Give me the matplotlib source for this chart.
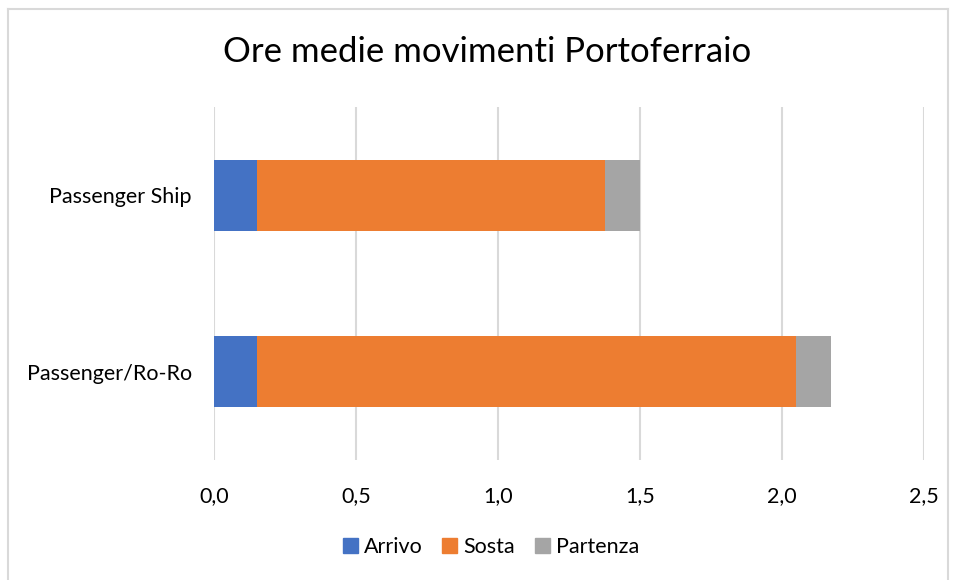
import matplotlib
matplotlib.use("Agg")
import matplotlib.pyplot as plt
from matplotlib.patches import Rectangle
from matplotlib.lines import Line2D

categories = ["Passenger/Ro-Ro", "Passenger Ship"]
arrivo = [0.15, 0.15]
sosta = [1.90, 1.227]
partenza = [0.123, 0.123]
series_names = ["Arrivo", "Sosta", "Partenza"]
colors = ["#4472C4", "#ED7D31", "#A5A5A5"]
xticks = [0.0, 0.5, 1.0, 1.5, 2.0, 2.5]
xticklabels = ["0,0", "0,5", "1,0", "1,5", "2,0", "2,5"]

plt.rcParams['font.family'] = ['Lato', 'DejaVu Sans']

W, H = 955, 580
fig = plt.figure(figsize=(W / 100, H / 100), dpi=100)
ax = fig.add_axes([214 / W, 1 - 460 / H, (924 - 214) / W, (460 - 107) / H])

y = list(range(len(categories)))
left = [0.0] * len(categories)
for vals, name, c in zip([arrivo, sosta, partenza], series_names, colors):
    ax.barh(y, vals, left=left, height=0.4, color=c, label=name, zorder=3)
    left = [l + v for l, v in zip(left, vals)]

ax.set_xlim(0, 2.5)
ax.set_ylim(-0.5, 1.5)
ax.set_xticks(xticks)
ax.set_xticklabels(xticklabels, fontsize=15.5, color="#000000")
ax.set_yticks(y)
ax.set_yticklabels(categories, fontsize=15.5, color="#000000")
ax.tick_params(axis='both', length=0)
ax.tick_params(axis='x', pad=19)
ax.tick_params(axis='y', pad=16)
ax.grid(axis='x', color="#D9D9D9", linewidth=1.5, zorder=0)
for s in ax.spines.values():
    s.set_visible(False)

fig.text(487 / W, 1 - 52 / H, "Ore medie movimenti Portoferraio", ha='center', va='center',
         fontsize=25, color="#000000")

handles = [Rectangle((0, 0), 1, 1, color=c) for c in colors]
fig.legend(handles, series_names, loc='center', bbox_to_anchor=(491 / W, 1 - 547 / H),
           ncol=3, frameon=False, fontsize=15.5, handlelength=0.7, handleheight=0.7,
           handletextpad=0.3, columnspacing=0.9)

# chart border
fig.add_artist(Line2D([8 / W, 8 / W], [0, 1 - 9 / H], transform=fig.transFigure, color="#D9D9D9", lw=1.5))
fig.add_artist(Line2D([8 / W, 948 / W], [1 - 9 / H, 1 - 9 / H], transform=fig.transFigure, color="#D9D9D9", lw=1.5))
fig.add_artist(Line2D([948 / W, 948 / W], [0, 1 - 9 / H], transform=fig.transFigure, color="#D9D9D9", lw=1.5))

fig.savefig("out.png", dpi=100, facecolor="white")
